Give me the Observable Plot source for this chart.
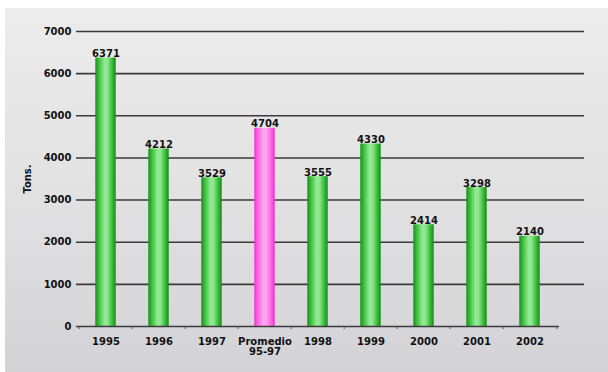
<!DOCTYPE html>
<html>
<head>
<meta charset="utf-8">
<script src="https://cdn.jsdelivr.net/npm/d3@7"></script>
<script src="https://cdn.jsdelivr.net/npm/@observablehq/plot@0.6"></script>
<style>
  html, body { margin: 0; padding: 0; background: #ffffff; }
  #wrap { position: relative; width: 608px; height: 372px; overflow: hidden; background: #ffffff; }
  #panel { position: absolute; left: 5px; top: 8px; right: 0; bottom: 0;
           background: linear-gradient(to bottom, #ececec 0%, #e2e2e3 50%, #d3d3d7 100%); }
  #chart { position: absolute; left: 0; top: 0; }
  #chart svg { background: transparent !important; }
</style>
</head>
<body>
<div id="wrap"><div id="panel"></div><div id="chart"></div></div>
<script>
// Data
const categories = ["1995", "1996", "1997", "Promedio\n95-97", "1998", "1999", "2000", "2001", "2002"];
const values = [6371, 4212, 3529, 4704, 3555, 4330, 2414, 3298, 2140];
const kinds = ["year", "year", "year", "avg", "year", "year", "year", "year", "year"];
const yTicks = [0, 1000, 2000, 3000, 4000, 5000, 6000, 7000];
const yLabel = "Tons.";

const data = categories.map((c, i) => ({cat: c, value: values[i], kind: kinds[i]}));

const W = 608, H = 372;
const mL = 76, mR = 49, mT = 31, mB = 46;
const step = (W - mL - mR) / categories.length;
const font = "'DejaVu Sans', sans-serif";

const chart = Plot.plot({
  width: W,
  height: H,
  marginLeft: mL,
  marginRight: mR,
  marginTop: mT,
  marginBottom: mB,
  style: {background: "transparent", fontFamily: font, fontSize: "10px", fontWeight: "bold", color: "#111"},
  x: {domain: categories, padding: 0, label: null},
  y: {domain: [0, 7000], label: null},
  marks: [
    Plot.ruleY(yTicks.filter(t => t > 0), {y: d => d, stroke: "#3a3a3a", strokeWidth: 1.6, insetRight: -25}),
    Plot.barY(data.filter(d => d.kind === "year"), {x: "cat", y: "value", fill: "url(#gGreen)", insetLeft: 16.3, insetRight: 16.3}),
    Plot.barY(data.filter(d => d.kind === "avg"), {x: "cat", y: "value", fill: "url(#gPink)", insetLeft: 16.3, insetRight: 16.3}),
    Plot.ruleY([0], {stroke: "#3a3a3a", strokeWidth: 1.6}),
    Plot.ruleX(categories, {x: d => d, dx: -step / 2, y: 0, stroke: "#555", strokeWidth: 1, insetBottom: -3}),
    Plot.ruleX([categories[categories.length - 1]], {x: d => d, dx: step / 2, y: 0, stroke: "#555", strokeWidth: 1, insetBottom: -3}),
    Plot.text(data, {x: "cat", y: "value", text: d => String(d.value), lineAnchor: "bottom", dy: -1, fill: "#111", fontSize: 10, fontWeight: "bold"}),
    Plot.axisY({ticks: yTicks, tickFormat: d => String(d), tickSize: 0, tickPadding: 5, label: null, fontSize: 10, fontWeight: "bold"}),
    Plot.axisX({tickSize: 0, tickPadding: 11, label: null, fontSize: 10, fontWeight: "bold", lineHeight: 1.05}),
    Plot.text([yLabel], {frameAnchor: "left", textAnchor: "middle", text: d => d, rotate: -90, dx: -49, dy: 0, fill: "#111", fontSize: 10, fontWeight: "bold"})
  ]
});

// gradients for bars
const svgNS = "http://www.w3.org/2000/svg";
const defs = document.createElementNS(svgNS, "defs");
function grad(id, stops) {
  const g = document.createElementNS(svgNS, "linearGradient");
  g.setAttribute("id", id);
  g.setAttribute("x1", "0"); g.setAttribute("x2", "1");
  g.setAttribute("y1", "0"); g.setAttribute("y2", "0");
  for (const [o, c] of stops) {
    const s = document.createElementNS(svgNS, "stop");
    s.setAttribute("offset", o);
    s.setAttribute("stop-color", c);
    g.appendChild(s);
  }
  defs.appendChild(g);
}
grad("gGreen", [["0", "#159015"], ["0.15", "#36b836"], ["0.45", "#92ea92"], ["0.6", "#8ce68c"], ["0.85", "#34b634"], ["1", "#128c12"]]);
grad("gPink", [["0", "#f030d0"], ["0.15", "#ff60e0"], ["0.45", "#ffa8f2"], ["0.6", "#ffa0f0"], ["0.85", "#ff5ede"], ["1", "#ee2ccc"]]);
chart.insertBefore(defs, chart.firstChild);

document.getElementById("chart").appendChild(chart);
</script>
</body>
</html>
